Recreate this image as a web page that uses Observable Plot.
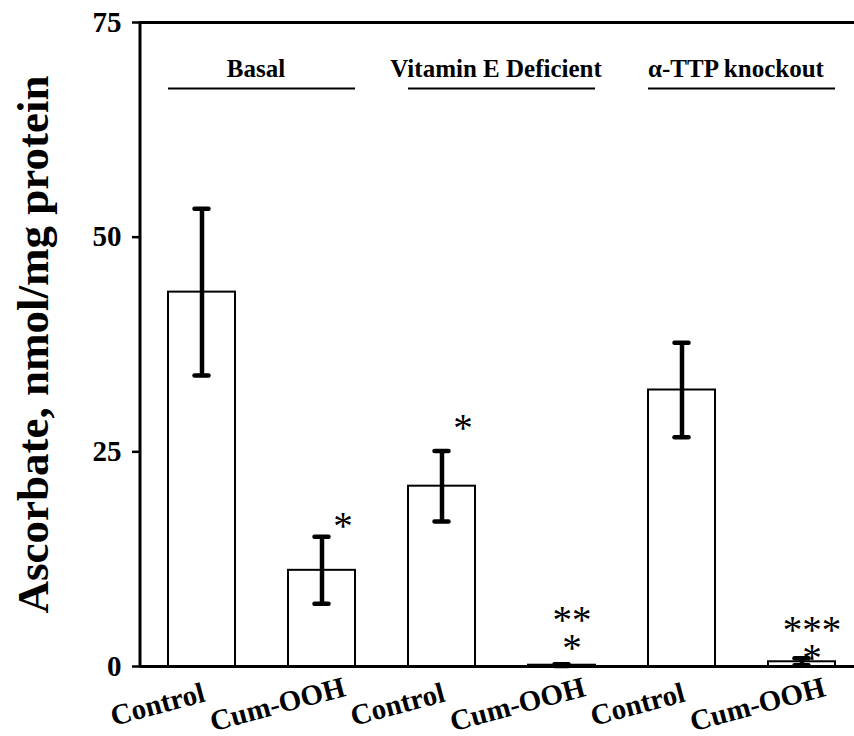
<!DOCTYPE html>
<html><head><meta charset="utf-8">
<script src="https://cdn.jsdelivr.net/npm/d3@7"></script>
<script src="https://cdn.jsdelivr.net/npm/@observablehq/plot@0.6"></script>
<style>body{margin:0;background:#fff}</style>
</head><body><div id="chart"></div>
<script>
// ---- data ----
const groups = ["Basal", "Vitamin E Deficient", "α-TTP knockout"];
const treatments = ["Control", "Cum-OOH"];
const means  = [43.6, 11.2, 21.0, 0.15, 32.2, 0.55];
const errors = [9.7, 3.9, 4.1, 0.10, 5.5, 0.40];
const yTicks = [0, 25, 50, 75];
const yTitle = "Ascorbate, nmol/mg protein";
// significance marks: bar index, label, level (nmol/mg)
const starBar   = [1, 2, 3, 5];
const starText  = ["*", "*", "**\n*", "***\n*"];
const starLevel = [17.2, 28.7, 4.45, 3.3];
const groupLineLevel = 67.3;

// ---- build tables ----
const rows = [];
groups.forEach((g, gi) => treatments.forEach((t, ti) => {
  const i = gi * 2 + ti;
  rows.push({key: g + "|" + t, group: g, label: t, mean: means[i], lo: means[i] - errors[i], hi: means[i] + errors[i]});
}));
const keys = rows.map(d => d.key);
const groupRows = groups.map((g, gi) => ({group: g, first: keys[gi * 2], last: keys[gi * 2 + 1]}));
const starRows = starBar.map((b, i) => ({key: keys[b], text: starText[i], level: starLevel[i], stacked: starText[i].includes("\n")}));
const singleStars = starRows.filter(d => !d.stacked);
const stackedStars = starRows.filter(d => d.stacked);

const serif = "'Liberation Serif','Times New Roman',serif";

const leftAxisLine = (index, scales, values, dims) => {
  const g = d3.create("svg:g");
  g.append("line")
    .attr("x1", dims.marginLeft).attr("x2", dims.marginLeft)
    .attr("y1", dims.marginTop - 1).attr("y2", dims.height - dims.marginBottom + 1)
    .attr("stroke", "black").attr("stroke-width", 3);
  return g.node();
};

const chart = Plot.plot({
  width: 854,
  height: 736,
  marginLeft: 140,
  marginRight: 0,
  marginTop: 22,
  marginBottom: 70,
  style: {fontFamily: serif, color: "black", background: "white"},
  x: {type: "band", domain: keys, range: [140, 863], paddingInner: 0.44, paddingOuter: 0.22, axis: null},
  y: {domain: [0, 75], axis: null},
  marks: [
    Plot.barY(rows, {x: "key", y: "mean", fill: "white", stroke: "black", strokeWidth: 2}),
    Plot.ruleX(rows, {x: "key", y1: "lo", y2: "hi", stroke: "black", strokeWidth: 4.5}),
    Plot.tickY(rows, {x: "key", y: "hi", stroke: "black", strokeWidth: 4.5, strokeLinecap: "round", insetLeft: 26.5, insetRight: 26.5}),
    Plot.tickY(rows, {x: "key", y: "lo", stroke: "black", strokeWidth: 4.5, strokeLinecap: "round", insetLeft: 26.5, insetRight: 26.5}),
    Plot.ruleY([0], {stroke: "black", strokeWidth: 3}),
    Plot.ruleY([75], {stroke: "black", strokeWidth: 3}),
    leftAxisLine,
    Plot.axisY({ticks: yTicks, tickSize: 8, tickFormat: () => "", strokeWidth: 2.5, label: null}),
    Plot.text(yTicks, {y: d => d, text: d => String(d), frameAnchor: "left", textAnchor: "end", dx: -19, fontSize: 29, fontWeight: "bold", fill: "black"}),
    Plot.text([yTitle], {frameAnchor: "left", textAnchor: "middle", dx: -107, rotate: -90, fontSize: 45, fontWeight: "bold", fill: "black"}),
    Plot.text(rows, {x: "key", text: "label", frameAnchor: "bottom", dy: 47, dx: -42, rotate: -15, fontSize: 29, fontWeight: "bold", fill: "black"}),
    Plot.ruleY(groupRows, {x1: "first", x2: "last", y: groupLineLevel, stroke: "black", strokeWidth: 2}),
    Plot.text(groupRows, {x: "first", text: "group", frameAnchor: "top", dy: 54, dx: 54, lineAnchor: "bottom", fontSize: 25, fontWeight: "bold", fill: "black"}),
    Plot.text(singleStars, {x: "key", y: "level", text: "text", dx: 21, dy: 8, fontSize: 39, fontFamily: serif, fill: "black"}),
    Plot.text(stackedStars, {x: "key", y: "level", text: "text", dx: 10, dy: 10, fontSize: 39, lineHeight: 0.72, fontFamily: serif, fill: "black"})
  ]
});
document.getElementById("chart").append(chart);
</script>
</body></html>
